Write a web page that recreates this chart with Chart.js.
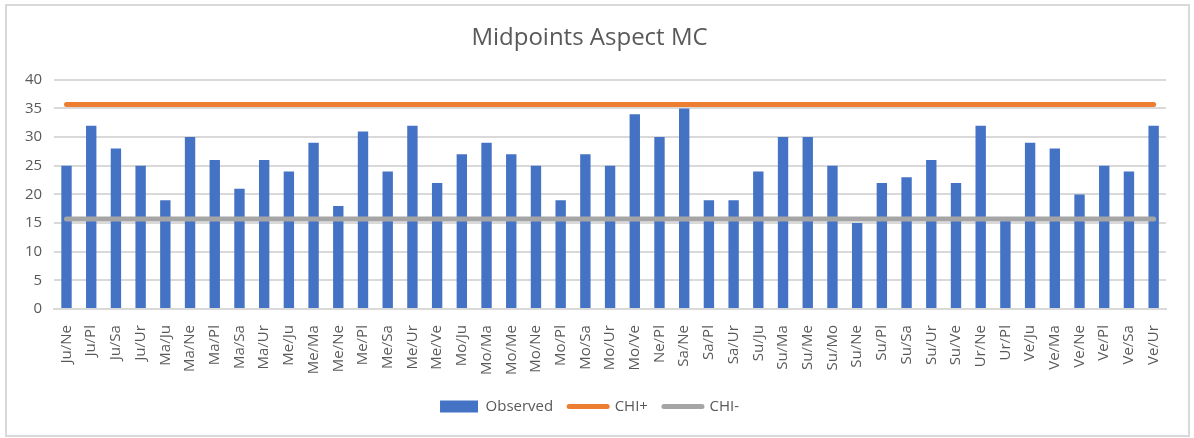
<!DOCTYPE html>
<html lang="en">

<head>
    <meta charset="UTF-8">
    <title>Midpoints Aspect MC</title>
    <script src="https://cdn.jsdelivr.net/npm/chart.js"></script>
    <style>
        body { margin: 0; background: #fff; }
        .moldura {
            position: absolute;
            left: 5px;
            top: 4px;
            width: 1181px;
            height: 429px;
            border: 2px solid #d9d9d9;
            background: #fff;
        }
    </style>
</head>

<body>
    <div class="moldura">
        <canvas id="grafico" width="1181" height="429"></canvas>
    </div>

<script>
    // dados
    var categorias = ['Ju/Ne', 'Ju/Pl', 'Ju/Sa', 'Ju/Ur', 'Ma/Ju', 'Ma/Ne', 'Ma/Pl', 'Ma/Sa', 'Ma/Ur',
        'Me/Ju', 'Me/Ma', 'Me/Ne', 'Me/Pl', 'Me/Sa', 'Me/Ur', 'Me/Ve', 'Mo/Ju', 'Mo/Ma', 'Mo/Me',
        'Mo/Ne', 'Mo/Pl', 'Mo/Sa', 'Mo/Ur', 'Mo/Ve', 'Ne/Pl', 'Sa/Ne', 'Sa/Pl', 'Sa/Ur', 'Su/Ju',
        'Su/Ma', 'Su/Me', 'Su/Mo', 'Su/Ne', 'Su/Pl', 'Su/Sa', 'Su/Ur', 'Su/Ve', 'Ur/Ne', 'Ur/Pl',
        'Ve/Ju', 'Ve/Ma', 'Ve/Ne', 'Ve/Pl', 'Ve/Sa', 'Ve/Ur'];

    var observado = [25, 32, 28, 25, 19, 30, 26, 21, 26,
        24, 29, 18, 31, 24, 32, 22, 27, 29, 27,
        25, 19, 27, 25, 34, 30, 35, 19, 19, 24,
        30, 30, 25, 15, 22, 23, 26, 22, 32, 16,
        29, 28, 20, 25, 24, 32];

    var chiMais = categorias.map(function () { return 35.7; });
    var chiMenos = categorias.map(function () { return 15.7; });

    var ticksY = [0, 5, 10, 15, 20, 25, 30, 35, 40];

    var corTexto = '#595959';
    var fonte = '"Open Sans", "Liberation Sans", sans-serif';

    var ctx = document.getElementById('grafico').getContext('2d');
    new Chart(ctx, {
        type: 'bar',
        data: {
            labels: categorias,
            datasets: [
                {
                    label: 'Observed',
                    data: observado,
                    backgroundColor: '#4472c4',
                    borderWidth: 0,
                    categoryPercentage: 1,
                    barPercentage: 0.42,
                    pointStyle: 'rect',
                    order: 3
                },
                {
                    type: 'line',
                    label: 'CHI+',
                    data: chiMais,
                    borderColor: '#ed7d31',
                    backgroundColor: '#ed7d31',
                    borderWidth: 5,
                    borderCapStyle: 'round',
                    pointRadius: 0,
                    pointStyle: 'line',
                    order: 1
                },
                {
                    type: 'line',
                    label: 'CHI-',
                    data: chiMenos,
                    borderColor: '#a5a5a5',
                    backgroundColor: '#a5a5a5',
                    borderWidth: 5,
                    borderCapStyle: 'round',
                    pointRadius: 0,
                    pointStyle: 'line',
                    order: 2
                }
            ]
        },
        options: {
            responsive: false,
            animation: false,
            layout: {
                padding: { left: 6, right: 22, top: 6, bottom: 11 }
            },
            plugins: {
                title: {
                    display: true,
                    text: 'Midpoints Aspect MC',
                    color: corTexto,
                    font: { size: 24, family: fonte, weight: 'normal' },
                    padding: { top: 12, bottom: 27 }
                },
                legend: {
                    position: 'bottom',
                    labels: {
                        color: corTexto,
                        font: { size: 15, family: fonte },
                        usePointStyle: true,
                        pointStyleWidth: 38,
                        boxHeight: 12,
                        padding: 16,
                        sort: function (a, b) { return a.datasetIndex - b.datasetIndex; },
                        generateLabels: function (chart) {
                            var itens = Chart.defaults.plugins.legend.labels.generateLabels(chart);
                            itens.forEach(function (item) {
                                if (item.pointStyle === 'line') {
                                    item.lineCap = 'round';
                                    item.lineWidth = 5;
                                }
                            });
                            return itens;
                        }
                    }
                },
                tooltip: { enabled: false }
            },
            scales: {
                y: {
                    min: 0,
                    max: 40,
                    afterBuildTicks: function (escala) {
                        escala.ticks = ticksY.map(function (v) { return { value: v }; });
                    },
                    ticks: {
                        color: corTexto,
                        font: { size: 15, family: fonte },
                        padding: 12
                    },
                    grid: { color: '#d9d9d9', lineWidth: 2, drawTicks: false },
                    border: { display: false }
                },
                x: {
                    ticks: {
                        color: corTexto,
                        font: { size: 15, family: fonte },
                        minRotation: 90,
                        maxRotation: 90,
                        autoSkip: false,
                        padding: 8
                    },
                    grid: { display: false },
                    border: { color: '#d9d9d9', width: 2 }
                }
            }
        }
    });
</script>
</body>

</html>
